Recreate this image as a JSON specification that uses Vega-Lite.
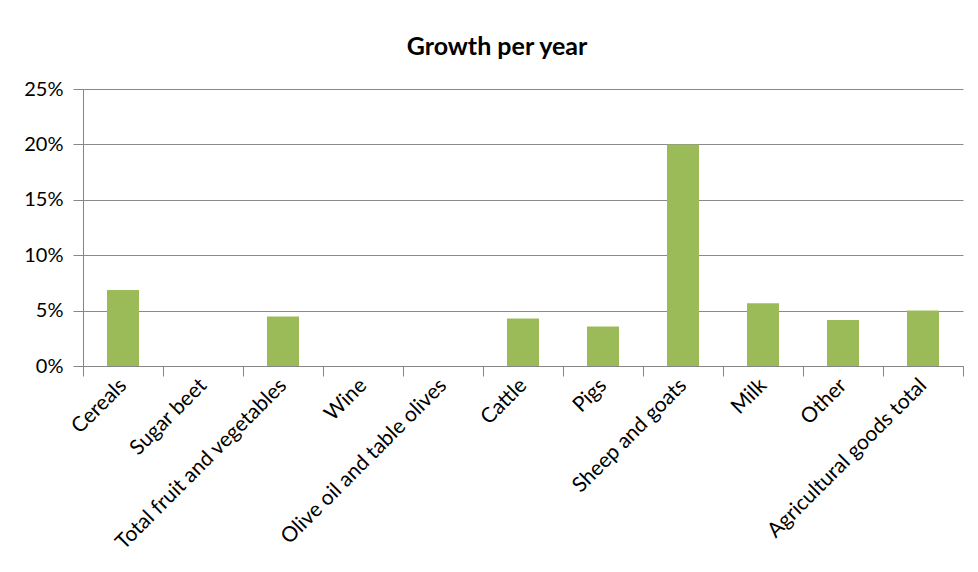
{
  "$schema": "https://vega.github.io/schema/vega-lite/v6.json",
  "autosize": {"type": "none"},
  "padding": {"left": 83, "top": 89, "right": 15, "bottom": 206},
  "width": 880,
  "height": 277,
  "background": "white",
  "title": {
    "text": "Growth per year",
    "anchor": "middle",
    "fontSize": 25,
    "fontWeight": "bold",
    "font": "Lato",
    "color": "#000000",
    "dx": -26,
    "offset": 19
  },
  "data": {
    "values": [
      {"category": "Cereals", "growth": 0.0686},
      {"category": "Sugar beet", "growth": 0},
      {"category": "Total fruit and vegetables", "growth": 0.0446},
      {"category": "Wine", "growth": 0},
      {"category": "Olive oil and table olives", "growth": 0},
      {"category": "Cattle", "growth": 0.0428},
      {"category": "Pigs", "growth": 0.0356},
      {"category": "Sheep and goats", "growth": 0.2},
      {"category": "Milk", "growth": 0.0566},
      {"category": "Other", "growth": 0.0415},
      {"category": "Agricultural goods total", "growth": 0.0502}
    ]
  },
  "mark": {"type": "bar", "color": "#9BBB59", "width": {"band": 0.4}},
  "encoding": {
    "x": {
      "field": "category",
      "type": "nominal",
      "sort": null,
      "scale": {"paddingInner": 0, "paddingOuter": 0},
      "axis": {
        "title": null,
        "labelAngle": -45,
        "labelAlign": "right",
        "labelBaseline": "middle",
        "labelFont": "Lato",
        "labelFontSize": 21,
        "labelColor": "#000000",
        "labelPadding": 6,
        "labelLimit": 400,
        "tickBand": "extent",
        "tickSize": 10,
        "tickColor": "#868686",
        "domainColor": "#868686",
        "grid": false
      }
    },
    "y": {
      "field": "growth",
      "type": "quantitative",
      "scale": {"domain": [0, 0.25], "nice": false},
      "axis": {
        "title": null,
        "format": ".0%",
        "values": [0, 0.05, 0.1, 0.15, 0.2, 0.25],
        "labelFont": "Lato",
        "labelFontSize": 20,
        "labelColor": "#000000",
        "labelPadding": 10,
        "tickSize": 10,
        "tickColor": "#868686",
        "domainColor": "#868686",
        "grid": true,
        "gridColor": "#8a8a8a",
        "gridOpacity": 1
      }
    }
  },
  "config": {"view": {"stroke": null}}
}
